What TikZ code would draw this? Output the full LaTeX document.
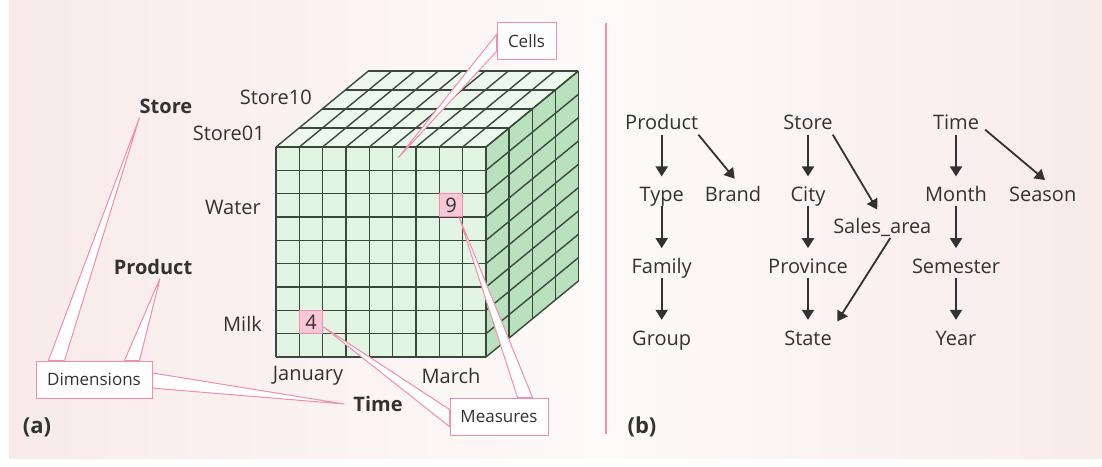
\documentclass[tikz,border=0pt]{standalone}
\usepackage{fontspec}
\setmainfont{Open Sans}
\usepackage{tikz}
\usetikzlibrary{arrows.meta, calc, positioning}
\pgfdeclarelayer{front}
\pgfsetlayers{main,front}
\usepackage{xcolor}

\definecolor{bgpink}{RGB}{248,235,233}
\definecolor{bgwhite}{RGB}{253,250,249}
\definecolor{calloutpink}{RGB}{244,140,172}
\definecolor{gridline}{RGB}{58,72,62}
\definecolor{frontgreen}{RGB}{226,245,226}
\definecolor{topgreen}{RGB}{238,249,237}
\definecolor{sidegreen}{RGB}{185,225,190}
\definecolor{cellpink}{RGB}{249,200,216}
\definecolor{txtgray}{RGB}{50,50,50}

\newcommand{\labelfont}{\fontsize{20}{24}\selectfont}
\newcommand{\notefont}{\fontsize{17}{20}\selectfont}
\newcommand{\tagfont}{\fontsize{22}{26}\selectfont}

\begin{document}
\begin{tikzpicture}[x=1pt, y=-1pt, node distance=71.7pt, >={Triangle[length=10pt,width=12pt]}]
 % We define the styles for the labels, callouts and arrows
 \tikzset{
axislbl/.style = {font=\labelfont, text=txtgray, inner sep=0pt},
dimname/.style = {font=\labelfont\bfseries, text=txtgray, inner sep=0pt},
note/.style = {draw=calloutpink, fill=white, line width=1pt, font=\notefont, text=txtgray, minimum height=37pt, inner sep=0pt},
wedge/.style = {draw=calloutpink, fill=white, line width=1pt, line join=miter},
cellbox/.style = {draw=calloutpink, fill=cellpink, line width=1pt, minimum size=23.3pt, inner sep=0pt, font=\labelfont, text=txtgray},
level/.style = {font=\labelfont, text=txtgray, inner sep=0pt, text height=15pt, text depth=4.5pt},
line/.style = {draw, ->, line width=1.8pt, txtgray, shorten >=10pt},
}
 \useasboundingbox (0,0) rectangle (1102,466);

 % Background of both panels
 \shade[left color=bgpink, right color=bgwhite] (9,0) rectangle (605,458);
 \shade[left color=bgwhite, right color=bgpink] (605,0) rectangle (1102,458);

 % Data cube
 \def\cw{23.333}
 \def\dx{23.1}
 \def\dy{19}
 \fill[frontgreen] (276,147) rectangle (486,357);
 \fill[topgreen] (276,147) -- (486,147) -- (578.4,71) -- (368.4,71) -- cycle;
 \fill[sidegreen] (486,147) -- (578.4,71) -- (578.4,281) -- (486,357) -- cycle;
 \begin{scope}[gridline, line width=1.4pt]
 \foreach \i in {0,...,9} {
   \draw (276+\i*\cw,147) -- (276+\i*\cw,357);
   \draw (276,147+\i*\cw) -- (486,147+\i*\cw);
   \draw (276+\i*\cw,147) -- ++(4*\dx,-4*\dy);
   \draw (486,147+\i*\cw) -- ++(4*\dx,-4*\dy);
 }
 \foreach \k in {0,...,4} {
   \draw (276+\k*\dx,147-\k*\dy) -- ++(210,0);
   \draw (486+\k*\dx,147-\k*\dy) -- ++(0,210);
 }
 \end{scope}

 % Measure cells
 \node[cellbox] (c9) at (451,205.3) {9};
 \node[cellbox] (c4) at (311,322) {4};
 \coordinate (cellpt) at (398,158);

 % Member labels
 \node[axislbl, anchor=east] (s10) at (312,97) {Store10};
 \node[axislbl, anchor=east] (s01) at (265,133.5) {Store01};
 \node[axislbl, anchor=east] (water) at (261,207) {Water};
 \node[axislbl, anchor=east] (milk) at (262,323.5) {Milk};
 \node[axislbl] (jan) at (308,376) {January};
 \node[axislbl] (mar) at (451,376) {March};

 % Dimension names
 \node[dimname] (store) at (166,106) {Store};
 \node[dimname] (product) at (153,267) {Product};
 \node[dimname] (time) at (378,404) {Time};

 % Callout boxes
 \begin{pgfonlayer}{front}
 \node[note, minimum width=116pt] (dims) at (94,379.5) {Dimensions};
 \node[note, minimum width=98pt] (meas) at (499,416.5) {Measures};
 \node[note, minimum width=59pt] (cells) at (526.5,41) {Cells};
 \end{pgfonlayer}

 % Callout wedges
 \draw[wedge] ([xshift=13pt]dims.north west) -- ([yshift=-4pt]store.south west) -- ([xshift=29pt]dims.north west) -- cycle;
 \draw[wedge] ([xshift=89pt]dims.north west) -- ([xshift=7pt,yshift=-3.5pt]product.south) -- ([xshift=104pt]dims.north west) -- cycle;
 \draw[wedge] ([yshift=-12.5pt]dims.north east) -- ([xshift=-9pt]time.west) -- ([yshift=-27.6pt]dims.north east) -- cycle;
 \draw[wedge] ([yshift=-12pt]meas.north west) -- ([yshift=-4.7pt]c4.east) -- ([yshift=-29pt]meas.north west) -- cycle;
 \draw[wedge] ([xshift=68pt]meas.north west) -- ([xshift=8.3pt]c9.south) -- ([xshift=83pt]meas.north west) -- cycle;
 \draw[wedge] ([yshift=-12.5pt]cells.north west) -- (cellpt) -- ([yshift=-29.5pt]cells.north west) -- cycle;

 % Panel tags and divider
 \node[dimname, font=\tagfont\bfseries] (pa) at (37,427) {(a)};
 \node[dimname, font=\tagfont\bfseries] (pb) at (642,427) {(b)};
 \draw[calloutpink, line width=2pt] (605.7,23) -- (605.7,434);

 % Product hierarchy
 \node[level] (prod) at (661.7,124.7) {Product};
 \node[level, below of=prod] (type) {Type};
 \node[level, below of=type] (family) {Family};
 \node[level, below of=family] (group) {Group};
 \node[level, node distance=71.3pt, right of=type] (brand) {Brand};

 % Store hierarchy
 \node[level] (store2) at (808,124.7) {Store};
 \node[level, below of=store2] (city) {City};
 \node[level, below of=city] (prov) {Province};
 \node[level, below of=prov] (state) {State};
 \node[level] (sarea) at (882.3,228) {Sales\_area};

 % Time hierarchy
 \node[level] (time2) at (956,124.7) {Time};
 \node[level, below of=time2] (month) {Month};
 \node[level, below of=month] (sem) {Semester};
 \node[level, below of=sem] (year) {Year};
 \node[level, node distance=86.7pt, right of=month] (season) {Season};

 % Roll-up arrows
 \draw[line] (prod) -- (type);
 \draw[line] (type) -- (family);
 \draw[line] (family) -- (group);
 \draw[line] (prod.south east) -- ([xshift=8pt]brand.north);
 \draw[line] (store2) -- (city);
 \draw[line] (city) -- (prov);
 \draw[line] (prov) -- (state);
 \draw[line] (store2.south east) -- (sarea.north);
 \draw[line] ([xshift=8pt]sarea.south) -- (state.north east);
 \draw[line] (time2) -- (month);
 \draw[line] (month) -- (sem);
 \draw[line] (sem) -- (year);
 \draw[line] ([xshift=6pt,yshift=-5pt]time2.east) -- ([xshift=10pt]season.north);

\end{tikzpicture}
\end{document}
